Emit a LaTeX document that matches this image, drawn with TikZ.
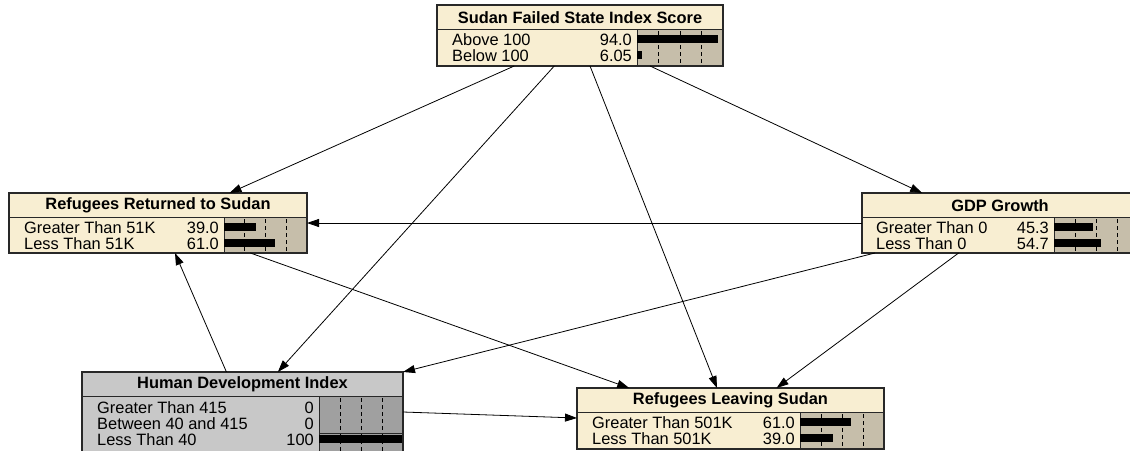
\documentclass[tikz,border=0pt]{standalone}
\usepackage{fontspec}
\setmainfont{Liberation Sans}
\usetikzlibrary{arrows.meta,calc}
\definecolor{cream}{RGB}{248,238,210}
\definecolor{tan}{RGB}{198,190,170}
\definecolor{lgray}{RGB}{200,200,200}
\definecolor{dgray}{RGB}{160,160,160}
\definecolor{edge}{RGB}{40,40,40}
\tikzset{
  netframe/.style={draw=edge, line width=1.1pt},
  netfill/.style={inner sep=0pt, outer sep=0pt, draw=none},
  sepline/.style={draw=edge, line width=0.9pt},
  tickline/.style={draw=black, line width=1pt, dash pattern=on 4pt off 3pt},
  titletext/.style={inner sep=0pt, font=\fontsize{16.4}{18}\selectfont\bfseries},
  rowtext/.style={inner sep=0pt, font=\fontsize{16.4}{18}\selectfont},
  link/.style={draw=black, line width=0.8pt, -{Triangle[length=12pt,width=8pt]}},
}
% #1 name, #2 x, #3 y, #4 w, #5 h, #6 barx, #7 title, #8 fill, #9 bar fill
\newcommand\netbox[9]{%
  \node[netfill, fill=#8, minimum width=#4pt, minimum height=#5pt, anchor=north west] (#1) at (#2,#3) {};
  \fill[#9] (#6,#3+24) rectangle (#2+#4,#3+#5);
  \draw[sepline] (#2,#3+24) -- (#2+#4,#3+24);
  \draw[sepline] (#6,#3+24) -- (#6,#3+#5);
  \foreach \f in {0.25,0.5,0.75}{
    \draw[tickline] ({#6+\f*(#2+#4-#6)},#3+26) -- ({#6+\f*(#2+#4-#6)},#3+#5);
  }
  \node[titletext] (#1-title) at (#2+#4/2,#3+12.5) {#7};
}
% #1 name, #2 text x, #3 bar x, #4 bar w, #5 y centre, #6 label, #7 value, #8 percent
\newcommand\netrow[8]{%
  \node[rowtext, anchor=base west] (#1-l) at (#2,#5+6) {#6};
  \node[rowtext, anchor=base east] (#1-v) at (#3-5,#5+6) {#7};
  \fill[black] (#3,#5-4) rectangle ({#3+#8/100*#4},#5+4);
}
\newcommand\frameit[1]{\draw[netframe] (#1.north west) rectangle (#1.south east);}
\begin{document}
\begin{tikzpicture}[x=1pt,y=-1pt]
\useasboundingbox (0,0) rectangle (1130,450);
\clip (0,0) rectangle (1130,450);
\fill[white] (0,0) rectangle (1130,450);

% Sudan Failed State Index Score
\netbox{sfs}{437}{5}{286}{61}{637}{Sudan Failed State Index Score}{cream}{tan}
\netrow{sfs-a}{452}{637}{86}{39}{Above 100}{94.0}{94.0}
\netrow{sfs-b}{452}{637}{86}{55}{Below 100}{6.05}{6.05}
\frameit{sfs}

% Refugees Returned to Sudan
\netbox{ret}{9}{193}{298}{60}{224}{Refugees Returned to Sudan}{cream}{tan}
\netrow{ret-a}{24}{224}{83}{227}{Greater Than 51K}{39.0}{39.0}
\netrow{ret-b}{24}{224}{83}{243}{Less Than 51K}{61.0}{61.0}
\frameit{ret}

% GDP Growth
\netbox{gdp}{862}{193}{276}{60}{1054}{GDP Growth}{cream}{tan}
\netrow{gdp-a}{876}{1054}{86}{227}{Greater Than 0}{45.3}{45.3}
\netrow{gdp-b}{876}{1054}{86}{243}{Less Than 0}{54.7}{54.7}
\frameit{gdp}

% Human Development Index
\netbox{hdi}{82}{372}{321}{84}{319}{Human Development Index}{lgray}{dgray}
\netrow{hdi-a}{97}{319}{84}{407}{Greater Than 415}{0}{0}
\netrow{hdi-b}{97}{319}{84}{423}{Between 40 and 415}{0}{0}
\netrow{hdi-c}{97}{319}{84}{439}{Less Than 40}{100}{100}
\draw[edge, line width=0.8pt] (319,433) -- (403,433);
\frameit{hdi}

% Refugees Leaving Sudan
\netbox{lea}{577}{388}{307}{61}{800}{Refugees Leaving Sudan}{cream}{tan}
\netrow{lea-a}{592}{800}{84}{422}{Greater Than 501K}{61.0}{61.0}
\netrow{lea-b}{592}{800}{84}{438}{Less Than 501K}{39.0}{39.0}
\frameit{lea}

% connectors
\draw[link] ($(sfs.south west)!0.27!(sfs.south east)$) -- ($(ret.north west)!0.74!(ret.north east)$);
\draw[link] ($(sfs.south west)!0.41!(sfs.south east)$) -- ($(hdi.north west)!0.61!(hdi.north east)$);
\draw[link] ($(sfs.south west)!0.535!(sfs.south east)$) -- ($(lea.north west)!0.456!(lea.north east)$);
\draw[link] ($(sfs.south west)!0.745!(sfs.south east)$) -- ($(gdp.north west)!0.218!(gdp.north east)$);
\draw[link] (gdp.west) -- (ret.east);
\draw[link] ($(gdp.south west)!0.047!(gdp.south east)$) -- (hdi.north east);
\draw[link] ($(gdp.south west)!0.35!(gdp.south east)$) -- ($(lea.north west)!0.65!(lea.north east)$);
\draw[link] ($(ret.south west)!0.81!(ret.south east)$) -- ($(lea.north west)!0.17!(lea.north east)$);
\draw[link] ($(hdi.north west)!0.45!(hdi.north east)$) -- ($(ret.south west)!0.557!(ret.south east)$);
\draw[link] ($(hdi.north east)+(0,40)$) -- ($(lea.north west)+(0,30)$);
\end{tikzpicture}
\end{document}
